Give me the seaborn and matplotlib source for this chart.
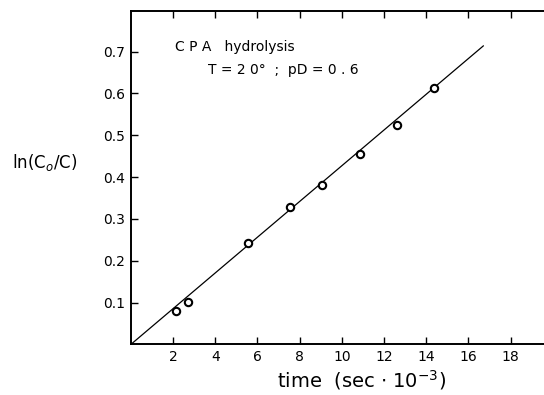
import matplotlib
matplotlib.use("Agg")
import matplotlib.pyplot as plt
import pandas as pd
import seaborn as sns

# Hydrolysis kinetics of CPA: first-order plot
time_ks = [2.13, 2.69, 5.57, 7.52, 9.05, 10.84, 12.60, 14.38]
ln_ratio = [0.081, 0.102, 0.243, 0.328, 0.381, 0.456, 0.525, 0.614]

# least-squares line through the origin
fit_time = [0.0, 16.71]
fit_ln = [0.0, 0.714]

x_ticks = [2, 4, 6, 8, 10, 12, 14, 16, 18]
y_ticks = [0.1, 0.2, 0.3, 0.4, 0.5, 0.6, 0.7]

points = pd.DataFrame({"time": time_ks, "ln": ln_ratio})
fit = pd.DataFrame({"time": fit_time, "ln": fit_ln})

sns.set_style("ticks")
plt.rcParams["font.family"] = ["DejaVu Sans"]
plt.rcParams["text.color"] = "black"
plt.rcParams["axes.labelcolor"] = "black"

fig = plt.figure(figsize=(5.44, 3.95), dpi=100)
ax = fig.add_axes([0.2405, 0.128, 0.7595, 0.845])

sns.lineplot(data=fit, x="time", y="ln", ax=ax, color="black", linewidth=0.9)
sns.scatterplot(data=points, x="time", y="ln", ax=ax, marker="o", s=28,
                facecolor="white", edgecolor="black", linewidth=1.5, zorder=3)

ax.set_xlim(0, 19.58)
ax.set_ylim(0, 0.798)
ax.set_xticks(x_ticks)
ax.set_xticklabels([str(t) for t in x_ticks])
ax.set_yticks(y_ticks)
ax.set_yticklabels([f"{t:.1f}" for t in y_ticks])

ax.tick_params(axis="both", direction="in", length=5, width=1, labelsize=10,
               colors="black", pad=4)
ax.tick_params(axis="x", top=True, pad=4)
for s in ("left", "bottom", "top"):
    ax.spines[s].set_linewidth(1.4)
    ax.spines[s].set_color("black")
ax.spines["right"].set_visible(False)

ax.set_xlabel("")
ax.set_ylabel("")
fig.text(0.665, 0.02, "time  (sec $\\cdot$ 10$^{-3}$)", fontsize=14,
         ha="center", va="baseline")
fig.text(0.022, 0.588, "ln(C$_o$/C)", fontsize=12, ha="left", va="center")

ax.text(2.11, 0.712, "C P A   hydrolysis", fontsize=10, ha="left", va="center")
ax.text(3.67, 0.656, "T = 2 0°  ;  pD = 0 . 6", fontsize=10, ha="left",
        va="center")

fig.savefig("out.png", dpi=100)
